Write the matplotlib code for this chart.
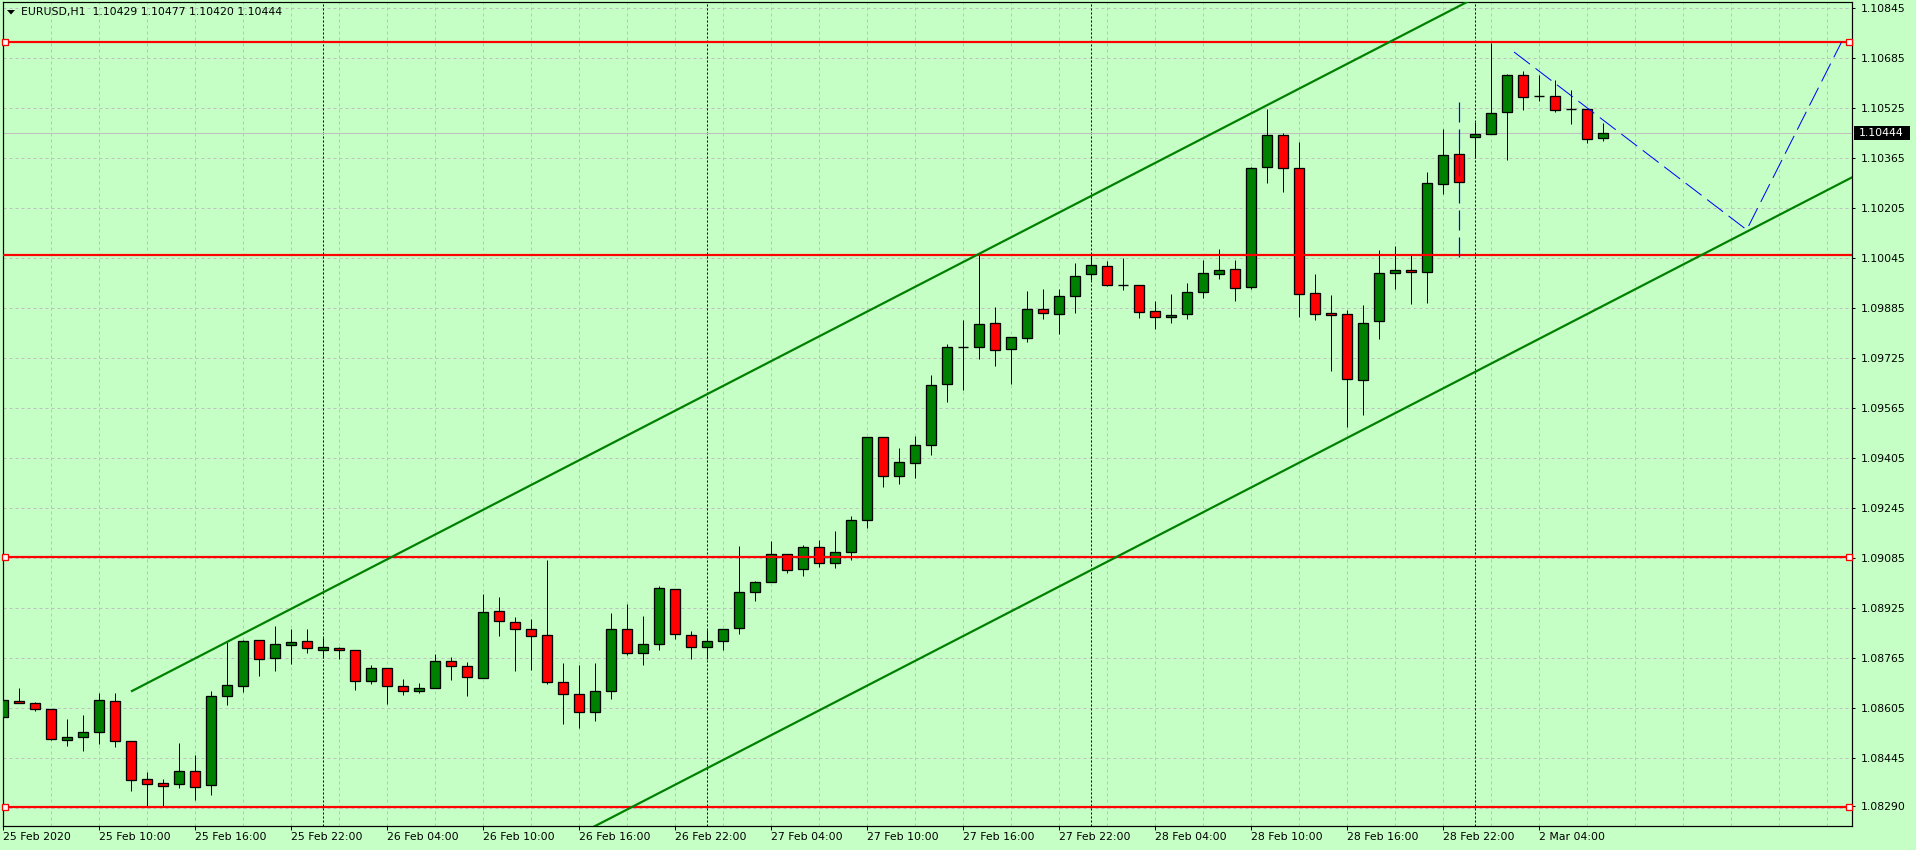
import matplotlib
matplotlib.use('Agg')
import matplotlib.pyplot as plt
from matplotlib.patches import Rectangle, Polygon

plt.rcParams['font.family'] = ['DejaVu Sans']
plt.rcParams['lines.scale_dashes'] = False

# ---------------- data (EURUSD H1, 25 Feb 2020 04:00 .. 2 Mar 2020 08:00) ----------------
opens = [1.08576, 1.08627, 1.08621, 1.08602, 1.08503, 1.08512, 1.08528, 1.08627, 1.08499, 1.08378,
         1.08365, 1.08362, 1.08403, 1.08359, 1.08643, 1.08675, 1.08823, 1.08765, 1.08807, 1.08819,
         1.08791, 1.08797, 1.08791, 1.08691, 1.08733, 1.08675, 1.08659, 1.08669, 1.08755, 1.08739,
         1.08701, 1.08915, 1.08880, 1.08858, 1.08839, 1.08688, 1.08650, 1.08592, 1.08659, 1.08858,
         1.08781, 1.08810, 1.08986, 1.08839, 1.08800, 1.08819, 1.08861, 1.08976, 1.09008, 1.09098,
         1.09050, 1.09120, 1.09069, 1.09104, 1.09207, 1.09472, 1.09347, 1.09389, 1.09447, 1.09642,
         1.09760, 1.09760, 1.09837, 1.09754, 1.09789, 1.09882, 1.09866, 1.09923, 1.09994, 1.10019,
         1.09959, 1.09959, 1.09875, 1.09856, 1.09866, 1.09936, 1.09994, 1.10010, 1.09952, 1.10336,
         1.10439, 1.10333, 1.09933, 1.09869, 1.09866, 1.09655, 1.09843, 1.09997, 1.10007, 1.10000,
         1.10282, 1.10378, 1.10432, 1.10442, 1.10512, 1.10631, 1.10563, 1.10563, 1.10522, 1.10522,
         1.10429]
highs = [1.08640, 1.08669, 1.08624, 1.08602, 1.08570, 1.08583, 1.08653, 1.08653, 1.08499, 1.08400,
         1.08378, 1.08493, 1.08455, 1.08659, 1.08816, 1.08823, 1.08823, 1.08867, 1.08858, 1.08858,
         1.08829, 1.08800, 1.08791, 1.08743, 1.08733, 1.08698, 1.08685, 1.08778, 1.08768, 1.08752,
         1.08970, 1.08960, 1.08896, 1.08890, 1.09079, 1.08749, 1.08743, 1.08749, 1.08909, 1.08938,
         1.08899, 1.08995, 1.08986, 1.08851, 1.08855, 1.08858, 1.09123, 1.09011, 1.09139, 1.09098,
         1.09127, 1.09143, 1.09171, 1.09219, 1.09472, 1.09472, 1.09437, 1.09475, 1.09671, 1.09770,
         1.09847, 1.10058, 1.09888, 1.09792, 1.09939, 1.09946, 1.09946, 1.10029, 1.10055, 1.10035,
         1.10045, 1.09959, 1.09907, 1.09930, 1.09965, 1.10039, 1.10074, 1.10039, 1.10336, 1.10522,
         1.10445, 1.10416, 1.09994, 1.09927, 1.09879, 1.09895, 1.10071, 1.10083, 1.10055, 1.10320,
         1.10458, 1.10410, 1.10480, 1.10733, 1.10634, 1.10643, 1.10631, 1.10615, 1.10583, 1.10522,
         1.10477]
lows = [1.08573, 1.08621, 1.08595, 1.08503, 1.08483, 1.08467, 1.08490, 1.08480, 1.08339, 1.08291,
        1.08291, 1.08349, 1.08311, 1.08327, 1.08615, 1.08656, 1.08707, 1.08723, 1.08746, 1.08781,
        1.08765, 1.08762, 1.08663, 1.08682, 1.08618, 1.08647, 1.08653, 1.08669, 1.08695, 1.08643,
        1.08701, 1.08835, 1.08723, 1.08727, 1.08682, 1.08554, 1.08541, 1.08563, 1.08634, 1.08775,
        1.08743, 1.08791, 1.08826, 1.08762, 1.08762, 1.08791, 1.08842, 1.08947, 1.09008, 1.09037,
        1.09027, 1.09056, 1.09053, 1.09079, 1.09181, 1.09312, 1.09322, 1.09341, 1.09415, 1.09584,
        1.09623, 1.09722, 1.09699, 1.09642, 1.09776, 1.09850, 1.09802, 1.09869, 1.09975, 1.09955,
        1.09943, 1.09853, 1.09818, 1.09837, 1.09850, 1.09917, 1.09978, 1.09907, 1.09946, 1.10285,
        1.10256, 1.09856, 1.09847, 1.09683, 1.09504, 1.09543, 1.09786, 1.09946, 1.09898, 1.09901,
        1.10250, 1.10243, 1.10365, 1.10442, 1.10359, 1.10519, 1.10547, 1.10512, 1.10474, 1.10413,
        1.10420]
closes = [1.08631, 1.08621, 1.08602, 1.08506, 1.08512, 1.08528, 1.08631, 1.08499, 1.08375, 1.08362,
          1.08355, 1.08403, 1.08352, 1.08643, 1.08679, 1.08819, 1.08762, 1.08810, 1.08816, 1.08797,
          1.08800, 1.08791, 1.08691, 1.08733, 1.08675, 1.08659, 1.08669, 1.08755, 1.08739, 1.08704,
          1.08912, 1.08883, 1.08858, 1.08835, 1.08688, 1.08650, 1.08592, 1.08659, 1.08858, 1.08781,
          1.08810, 1.08989, 1.08842, 1.08800, 1.08819, 1.08858, 1.08976, 1.09008, 1.09098, 1.09047,
          1.09120, 1.09069, 1.09104, 1.09207, 1.09472, 1.09347, 1.09392, 1.09447, 1.09639, 1.09760,
          1.09760, 1.09834, 1.09751, 1.09792, 1.09882, 1.09869, 1.09923, 1.09987, 1.10023, 1.09959,
          1.09959, 1.09872, 1.09856, 1.09863, 1.09936, 1.09997, 1.10007, 1.09949, 1.10333, 1.10439,
          1.10333, 1.09930, 1.09866, 1.09863, 1.09658, 1.09837, 1.09997, 1.10007, 1.10000, 1.10285,
          1.10375, 1.10288, 1.10442, 1.10509, 1.10631, 1.10560, 1.10563, 1.10519, 1.10522, 1.10426,
          1.10444]

x_tick_bars = [0, 6, 12, 18, 24, 30, 36, 42, 48, 54, 60, 66, 72, 78, 84, 90, 96]
x_tick_labels = ["25 Feb 2020", "25 Feb 10:00", "25 Feb 16:00", "25 Feb 22:00", "26 Feb 04:00",
                 "26 Feb 10:00", "26 Feb 16:00", "26 Feb 22:00", "27 Feb 04:00", "27 Feb 10:00",
                 "27 Feb 16:00", "27 Feb 22:00", "28 Feb 04:00", "28 Feb 10:00", "28 Feb 16:00",
                 "28 Feb 22:00", "2 Mar 04:00"]
y_ticks = [1.10845, 1.10685, 1.10525, 1.10365, 1.10205, 1.10045, 1.09885, 1.09725, 1.09565,
           1.09405, 1.09245, 1.09085, 1.08925, 1.08765, 1.08605, 1.08445, 1.08290]
y_tick_labels = ["1.10845", "1.10685", "1.10525", "1.10365", "1.10205", "1.10045", "1.09885",
                 "1.09725", "1.09565", "1.09405", "1.09245", "1.09085", "1.08925", "1.08765",
                 "1.08605", "1.08445", "1.08290"]
grid_prices = [1.10845, 1.10685, 1.10525, 1.10365, 1.10205, 1.10045, 1.09885, 1.09725, 1.09565,
               1.09405, 1.09245, 1.09085, 1.08925, 1.08765, 1.08605, 1.08445, 1.08285]

red_levels = [1.10736, 1.10055, 1.09088, 1.08288]
red_level_markers = [True, False, True, True]
current_price = 1.10444
current_price_label = "1.10444"
separator_bars = [20, 44, 68, 92]

upper_trend_x = [8.06, 61.0]
upper_trend_y = [1.08659, 1.10058]
lower_anchor_x = 68.04
lower_anchor_y = 1.09047

blue_vert_x = [91.0, 91.0]
blue_vert_y = [1.10544, 1.10029]
blue_path_x = [94.44, 108.98, 114.92]
blue_path_y = [1.10704, 1.10135, 1.10737]

title_text = "EURUSD,H1  1.10429 1.10477 1.10420 1.10444"

# ---------------- styling ----------------
BG = '#C5FFC5'
GRID = '#C0C0C0'
BULL = '#008000'
BEAR = '#FF0000'
PX = 72.0 / 100.0  # one pixel in points

W, H = 1916, 850
fig = plt.figure(figsize=(W / 100, H / 100), dpi=100, facecolor=BG)
L, R, T, B = 3, 1852, 2, 826
ax = fig.add_axes([L / W, (H - B) / H, (R - L) / W, (B - T) / H])
ax.set_facecolor(BG)

x_min, x_max = 0.0, (R - L) / 16.0
y_min, y_max = 1.08227, 1.10864
ax.set_xlim(x_min, x_max)
ax.set_ylim(y_min, y_max)

# grid
for gx in range(0, int(x_max) + 1, 3):
    ax.axvline(gx, color=GRID, lw=PX, ls=(0, (3 * PX, 3 * PX)), zorder=0.5)
for gp in grid_prices:
    ax.axhline(gp, color=GRID, lw=PX, ls=(0, (3 * PX, 3 * PX)), zorder=0.5)

# day separators
for sb in separator_bars:
    ax.axvline(sb, color='black', lw=PX, ls=(0, (2 * PX, 2 * PX)), zorder=0.8)

# current price line
ax.axhline(current_price, color='#C0C0C0', lw=PX, zorder=0.9)

# candles
n = len(opens)
xs = list(range(n))
ax.vlines(xs, lows, highs, color='black', lw=PX, zorder=2)
body_w = 10.0 / 16.0
for i in range(n):
    o, c = opens[i], closes[i]
    if abs(c - o) < 1e-6:
        ax.plot([i - body_w / 2, i + body_w / 2], [o, o], color='black', lw=1.4 * PX, zorder=3,
                solid_capstyle='butt')
    else:
        col = BULL if c > o else BEAR
        ax.add_patch(Rectangle((i - body_w / 2, min(o, c)), body_w, abs(c - o), facecolor=col,
                               edgecolor='black', lw=1.3 * PX, zorder=3))

# red horizontal levels
for lvl, mk in zip(red_levels, red_level_markers):
    ax.axhline(lvl, color='#FF0000', lw=2.2 * PX, zorder=4)
    if mk:
        ax.plot([0.13, x_max - 0.19], [lvl, lvl], ls='none', marker='s', ms=4.2, mfc='white',
                mec='#FF0000', mew=1.3 * PX, zorder=5, clip_on=False)

# channel (trend lines)
slope = (upper_trend_y[1] - upper_trend_y[0]) / (upper_trend_x[1] - upper_trend_x[0])
far = 200.0
ax.plot([upper_trend_x[0], far], [upper_trend_y[0], upper_trend_y[0] + slope * (far - upper_trend_x[0])],
        color=BULL, lw=2.2 * PX, zorder=4)
ax.plot([upper_trend_x[0], far], [lower_anchor_y + slope * (upper_trend_x[0] - lower_anchor_x),
                                   lower_anchor_y + slope * (far - lower_anchor_x)],
        color=BULL, lw=2.2 * PX, zorder=4)

# blue dashed lines
dash = (0, (20 * PX, 7 * PX))
ax.plot(blue_vert_x, blue_vert_y, color='#0000FF', lw=1.2 * PX, ls=dash, zorder=4)
ax.plot(blue_path_x, blue_path_y, color='#0000FF', lw=1.0 * PX, ls=dash, zorder=4)

# axes frame / ticks
for sp in ax.spines.values():
    sp.set_color('black')
    sp.set_linewidth(1.2 * PX)
ax.yaxis.tick_right()
ax.set_yticks(y_ticks)
ax.set_yticklabels(y_tick_labels)
ax.set_xticks(x_tick_bars)
ax.set_xticklabels(x_tick_labels, ha='left')
ax.tick_params(axis='y', direction='out', length=3 * PX, width=PX, pad=4.5, labelsize=7.8,
               colors='black')
ax.tick_params(axis='x', direction='out', length=4 * PX, width=PX, pad=1.2, labelsize=7.8,
               colors='black')

# current price label box
py = (1.108706 - current_price) / 0.000032  # pixel row of current price
fig.add_artist(Rectangle((1854 / W, 1 - (py + 7) / H), 56 / W, 14 / H, transform=fig.transFigure,
                         facecolor='black', edgecolor='none', zorder=10))
fig.text(1859 / W, 1 - py / H, current_price_label, color='white', fontsize=7.8, va='center',
         ha='left', zorder=11)

# title
fig.add_artist(Polygon([[7 / W, 1 - 10 / H], [15 / W, 1 - 10 / H], [11 / W, 1 - 14.5 / H]],
                       closed=True, transform=fig.transFigure, facecolor='black', edgecolor='none',
                       zorder=10))
fig.text(21 / W, 1 - 12.5 / H, title_text, color='black', fontsize=7.8, va='center', ha='left',
         zorder=11)

fig.savefig('out.png', dpi=100, facecolor=BG)
